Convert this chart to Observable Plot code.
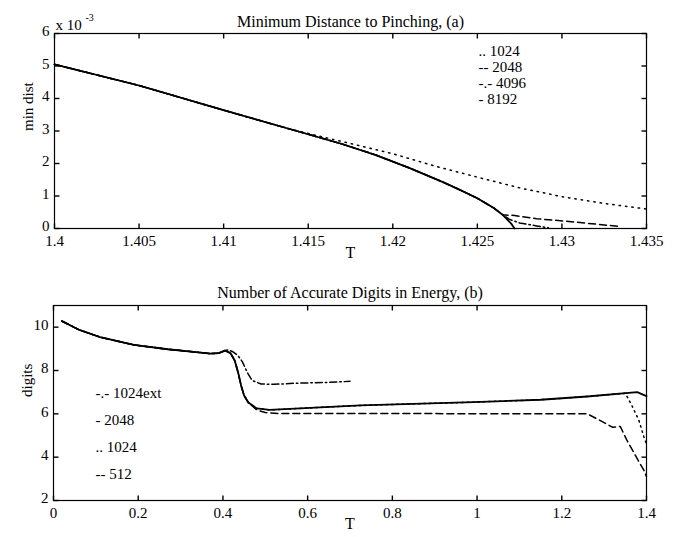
<!DOCTYPE html>
<html><head><meta charset="utf-8">
<script src="https://cdn.jsdelivr.net/npm/d3@7"></script>
<script src="https://cdn.jsdelivr.net/npm/@observablehq/plot@0.6"></script>
<style>
body{margin:0;background:#fff;}
#chart{width:679px;height:537px;}
#chart svg{display:block;}
</style></head><body><div id="chart"></div>
<script>
// ---------- Panel (a): Minimum Distance to Pinching (values in units of 1e-3) ----------
const titleA = "Minimum Distance to Pinching, (a)";
const xLabelA = "T";
const yLabelA = "min dist";
const xTicksA = [1.4, 1.405, 1.41, 1.415, 1.42, 1.425, 1.43, 1.435];
const yTicksA = [0, 1, 2, 3, 4, 5, 6];
const legendA = [".. 1024", "-- 2048", "-.- 4096", "- 8192"];

const tA8192 = [1.400, 1.405, 1.410, 1.415, 1.417, 1.419, 1.421, 1.423, 1.424, 1.425, 1.426, 1.4265, 1.427, 1.4272];
const vA8192 = [5.05, 4.40, 3.64, 2.90, 2.60, 2.26, 1.86, 1.42, 1.18, 0.93, 0.62, 0.42, 0.15, 0.0];

const tA1024 = [1.400, 1.405, 1.410, 1.414, 1.416, 1.418, 1.420, 1.4225, 1.425, 1.4275, 1.430, 1.4325, 1.435];
const vA1024 = [5.05, 4.40, 3.64, 3.05, 2.80, 2.55, 2.30, 1.92, 1.58, 1.25, 0.98, 0.77, 0.60];

const tA2048 = [1.400, 1.405, 1.410, 1.415, 1.417, 1.419, 1.421, 1.423, 1.424, 1.425, 1.426, 1.4265, 1.4272, 1.4285, 1.4301, 1.4315, 1.4333];
const vA2048 = [5.05, 4.40, 3.64, 2.90, 2.60, 2.26, 1.86, 1.42, 1.18, 0.93, 0.62, 0.42, 0.40, 0.30, 0.23, 0.16, 0.07];

const tA4096 = [1.400, 1.405, 1.410, 1.415, 1.417, 1.419, 1.421, 1.423, 1.424, 1.425, 1.426, 1.4265, 1.4269, 1.4275, 1.4285, 1.4292];
const vA4096 = [5.05, 4.40, 3.64, 2.90, 2.60, 2.26, 1.86, 1.42, 1.18, 0.93, 0.62, 0.42, 0.28, 0.17, 0.08, 0.02];

// ---------- Panel (b): Number of Accurate Digits in Energy ----------
const titleB = "Number of Accurate Digits in Energy, (b)";
const xLabelB = "T";
const yLabelB = "digits";
const xTicksB = [0, 0.2, 0.4, 0.6, 0.8, 1, 1.2, 1.4];
const yTicksB = [2, 4, 6, 8, 10];
const legendB = ["-.- 1024ext", "- 2048", ".. 1024", "-- 512"];

const tB2048 = [0.02, 0.06, 0.11, 0.19, 0.27, 0.33, 0.37, 0.39, 0.405, 0.418, 0.428, 0.436, 0.443, 0.450, 0.460, 0.480, 0.510, 0.725, 0.992, 1.15, 1.26, 1.378, 1.40];
const vB2048 = [10.28, 9.88, 9.54, 9.18, 8.98, 8.86, 8.78, 8.80, 8.92, 8.80, 8.45, 7.90, 7.30, 6.85, 6.52, 6.25, 6.18, 6.39, 6.54, 6.65, 6.80, 7.00, 6.82];

const tB1024 = [0.02, 0.06, 0.11, 0.19, 0.27, 0.33, 0.37, 0.39, 0.405, 0.418, 0.428, 0.436, 0.443, 0.450, 0.460, 0.480, 0.510, 0.725, 0.992, 1.15, 1.26, 1.35, 1.365, 1.382, 1.394, 1.40];
const vB1024 = [10.28, 9.88, 9.54, 9.18, 8.98, 8.86, 8.78, 8.80, 8.92, 8.80, 8.45, 7.90, 7.30, 6.85, 6.52, 6.25, 6.18, 6.39, 6.54, 6.65, 6.80, 6.95, 6.40, 5.70, 4.93, 4.60];

const tB512 = [0.02, 0.06, 0.11, 0.19, 0.27, 0.33, 0.37, 0.39, 0.405, 0.418, 0.428, 0.436, 0.443, 0.450, 0.460, 0.480, 0.500, 0.530, 1.26, 1.29, 1.32, 1.338, 1.354, 1.378, 1.394, 1.40];
const vB512 = [10.28, 9.88, 9.54, 9.18, 8.98, 8.86, 8.78, 8.80, 8.92, 8.80, 8.45, 7.90, 7.30, 6.85, 6.52, 6.18, 6.06, 6.02, 6.00, 5.70, 5.38, 5.42, 4.77, 3.93, 3.39, 3.10];

const tB1024ext = [0.02, 0.06, 0.11, 0.19, 0.27, 0.33, 0.37, 0.39, 0.405, 0.412, 0.422, 0.435, 0.446, 0.457, 0.469, 0.490, 0.520, 0.580, 0.650, 0.700];
const vB1024ext = [10.28, 9.88, 9.54, 9.18, 8.98, 8.86, 8.78, 8.80, 8.92, 8.95, 8.88, 8.70, 8.40, 7.93, 7.54, 7.38, 7.36, 7.42, 7.45, 7.50];

// ---------- styles ----------
const FONT = "Liberation Serif, 'Times New Roman', serif";
const styles = {
  solid: {stroke: "black", strokeWidth: 1.8},
  dotted: {stroke: "black", strokeWidth: 1.5, strokeDasharray: "1.4,5"},
  dashed: {stroke: "black", strokeWidth: 1.5, strokeDasharray: "7,4"},
  dashdot: {stroke: "black", strokeWidth: 1.5, strokeDasharray: "7,3,1.5,3"}
};
const zip = (t, v) => t.map((x, i) => ({x, y: v[i]}));
const fmt = d => String(+(+d).toFixed(4));
const TICK = 5; // inward tick length in px

// axis labels (outside) plus inward ticks on all four sides, drawn through the scales
function axes(xt, yt, xd, yd, w, h) {
  const kx = (xd[1] - xd[0]) / w * TICK;
  const ky = (yd[1] - yd[0]) / h * TICK;
  const tk = {stroke: "black", strokeWidth: 1.4};
  return [
    Plot.axisX({anchor: "bottom", ticks: xt, tickSize: 0, tickPadding: 7, tickFormat: fmt, label: null, fontSize: 15}),
    Plot.axisY({anchor: "left", ticks: yt, tickSize: 0, tickPadding: 5, tickFormat: fmt, label: null, fontSize: 15, dy: -2}),
    Plot.link(xt, {x1: d => d, x2: d => d, y1: () => yd[0], y2: () => yd[0] + ky, ...tk}),
    Plot.link(xt, {x1: d => d, x2: d => d, y1: () => yd[1], y2: () => yd[1] - ky, ...tk}),
    Plot.link(yt, {y1: d => d, y2: d => d, x1: () => xd[0], x2: () => xd[0] + kx, ...tk}),
    Plot.link(yt, {y1: d => d, y2: d => d, x1: () => xd[1], x2: () => xd[1] - kx, ...tk})
  ];
}

const xDomA = [1.4, 1.435], yDomA = [0, 6];
const plotA = Plot.plot({
  width: 679, height: 270,
  marginTop: 33, marginBottom: 42, marginLeft: 54, marginRight: 33,
  style: {fontFamily: FONT, fontSize: "15px", background: "white", color: "black"},
  x: {domain: xDomA},
  y: {domain: yDomA},
  marks: [
    ...axes(xTicksA, yTicksA, xDomA, yDomA, 679 - 54 - 33, 270 - 33 - 42),
    Plot.line(zip(tA1024, vA1024), {x: "x", y: "y", ...styles.dotted}),
    Plot.line(zip(tA2048, vA2048), {x: "x", y: "y", ...styles.dashed}),
    Plot.line(zip(tA4096, vA4096), {x: "x", y: "y", ...styles.dashdot}),
    Plot.line(zip(tA8192, vA8192), {x: "x", y: "y", ...styles.solid}),
    Plot.frame({stroke: "black", strokeWidth: 1.2}),
    Plot.text([titleA], {frameAnchor: "top", dy: -18, fontSize: 16}),
    Plot.text([xLabelA], {frameAnchor: "bottom", dy: 29, fontSize: 16}),
    Plot.text([yLabelA], {frameAnchor: "left", dx: -26, rotate: -90, fontSize: 15}),
    Plot.text(["x 10"], {frameAnchor: "top-left", textAnchor: "start", dx: 1, dy: -14, fontSize: 15}),
    Plot.text(["-3"], {frameAnchor: "top-left", textAnchor: "start", dx: 31, dy: -20, fontSize: 10}),
    Plot.text([legendA.join("\n")], {frameAnchor: "top-left", textAnchor: "start", lineAnchor: "top", dx: 424, dy: 11, lineHeight: 1.07, fontSize: 15})
  ]
});

const xDomB = [0, 1.4], yDomB = [2, 11];
const plotB = Plot.plot({
  width: 679, height: 267,
  marginTop: 35, marginBottom: 37, marginLeft: 53, marginRight: 33,
  style: {fontFamily: FONT, fontSize: "15px", background: "white", color: "black"},
  x: {domain: xDomB},
  y: {domain: yDomB},
  marks: [
    ...axes(xTicksB, yTicksB, xDomB, yDomB, 679 - 53 - 33, 267 - 35 - 37),
    Plot.line(zip(tB1024ext, vB1024ext), {x: "x", y: "y", ...styles.dashdot}),
    Plot.line(zip(tB512, vB512), {x: "x", y: "y", ...styles.dashed}),
    Plot.line(zip(tB1024, vB1024), {x: "x", y: "y", ...styles.dotted, strokeDasharray: "1.4,4"}),
    Plot.line(zip(tB2048, vB2048), {x: "x", y: "y", ...styles.solid}),
    Plot.frame({stroke: "black", strokeWidth: 1.2}),
    Plot.text([titleB], {frameAnchor: "top", dy: -19, fontSize: 16}),
    Plot.text([xLabelB], {frameAnchor: "bottom", dy: 28, fontSize: 16}),
    Plot.text([yLabelB], {frameAnchor: "left", dx: -26, dy: -6, rotate: -90, fontSize: 15}),
    Plot.text([legendB.join("\n")], {frameAnchor: "top-left", textAnchor: "start", lineAnchor: "top", dx: 42, dy: 74, lineHeight: 1.78, fontSize: 15})
  ]
});

const chart = document.getElementById("chart");
chart.append(plotA, plotB);
</script></body></html>
